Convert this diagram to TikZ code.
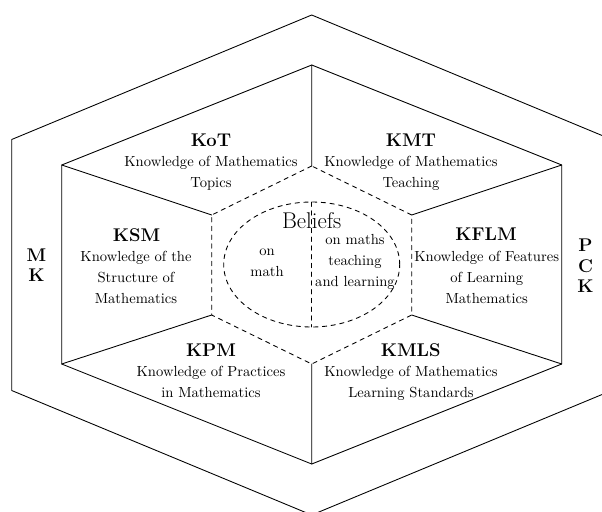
\documentclass[tikz,border=0pt]{standalone}
\usepackage{fontspec}
\begin{document}
\begin{tikzpicture}[x=0.685pt,y=0.685pt,line join=round,line cap=round,semithick,
	ttl/.style={font=\fontsize{12.6}{14}\selectfont\bfseries,inner sep=0pt,anchor=base},
	side/.style={font=\fontsize{12.6}{14}\selectfont\bfseries,inner sep=0pt,align=center},
	desc/.style={font=\fontsize{10}{14.4}\selectfont,inner sep=0pt,align=center}]
	\useasboundingbox (-311.7,-247.5) rectangle (290.3,264.5);
	% outer hexagon
	\draw (0,249.5)--(-300,125)--(-300,-126)--(0,-250.5)--(300,-126)--(300,125)--cycle;
	% knowledge hexagon
	\path (0,199.5) coordinate (mt) (-250,99.5) coordinate (mtl) (-250,-99.5) coordinate (mbl)
	(0,-199.5) coordinate (mb) (250,-99.5) coordinate (mbr) (250,99.5) coordinate (mtr);
	\path (0,98.5) coordinate (bt) (-100,49.5) coordinate (btl) (-100,-50.5) coordinate (bbl)
	(0,-99.5) coordinate (bb) (100,-50.5) coordinate (bbr) (100,49.5) coordinate (btr);
	\draw (mt)--(mtl)--(mbl)--(mb)--(mbr)--(mtr)--cycle;
	\draw (mt)--(bt) (mtl)--(btl) (mbl)--(bbl) (mb)--(bb) (mbr)--(bbr) (mtr)--(btr);
	% beliefs
	\draw[dashed] (bt)--(btl)--(bbl)--(bb)--(bbr)--(btr)--cycle;
	\draw[dashed] (0,0) ellipse (88 and 62.5);
	\draw[dashed] (0,62.5) coordinate (et)--(0,-62.5) coordinate (eb);
	\path 
	(-100.7,117.8) node[ttl] (kot) {KoT}
	(99.3,117.8) node[ttl] (kmt) {KMT}
	(-175.2,23.5) node[ttl] (ksm) {KSM}
	(174.3,24) node[ttl] (kflm) {KFLM}
	(-100.7,-91.5) node[ttl] (kpm) {KPM}
	(99,-91.5) node[ttl] (kmls) {KMLS}
	;
	\path 
	(-100.7,90.9) node[desc] (kotd) {Knowledge of Mathematics\\Topics}
	(99.3,90.9) node[desc] (kmtd) {Knowledge of Mathematics\\Teaching}
	(-175.7,-12.5) node[desc] (ksmd) {Knowledge of the\\Structure of\\Mathematics}
	(175,-12.5) node[desc] (kflmd) {Knowledge of Features\\of Learning\\Mathematics}
	(-100.7,-117) node[desc] (kpmd) {Knowledge of Practices\\in Mathematics}
	(99.3,-118.4) node[desc] (kmlsd) {Knowledge of Mathematics\\Learning Standards}
	;
	\path 
	(0,36.5) node[anchor=base,inner sep=0pt,font=\fontsize{15.6}{18}\selectfont] (bel) {Beliefs}
	(-44.7,2.1) node[desc] (onmath) {on\\math}
	(43.3,2.1) node[desc] (onteach) {on maths\\teaching\\and learning}
	(-275.2,-0.8) node[side] (mk) {M\\K}
	(273.8,-1.6) node[side] (pck) {P\\C\\K}
	;
\end{tikzpicture}
\end{document}
